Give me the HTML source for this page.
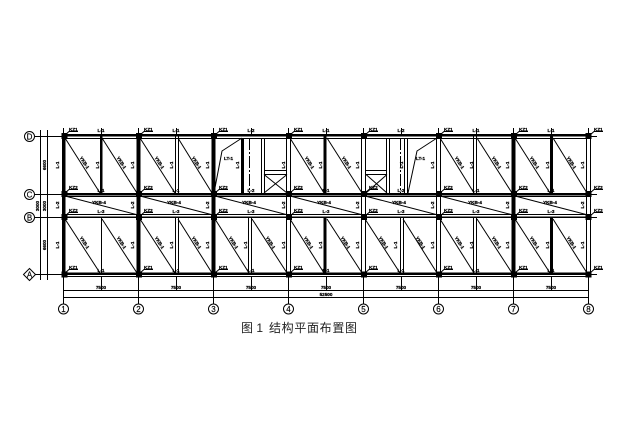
<!DOCTYPE html>
<html><head><meta charset="utf-8"><style>
html,body{margin:0;padding:0;background:#fff}
svg{display:block}
text{font-family:"Liberation Sans",sans-serif;font-size:4.600px;font-weight:bold;fill:#000;stroke:#000;stroke-width:.25}
.m{text-anchor:middle}
.b{font-size:8px;font-weight:normal;text-anchor:middle;stroke-width:.15}
.t{font-family:"Liberation Sans","Noto Sans CJK SC",sans-serif;font-size:12px;font-weight:normal;fill:#222;stroke:none}
</style></head><body>
<svg width="624" height="428" viewBox="0 0 624 428" xmlns="http://www.w3.org/2000/svg">
<rect width="624" height="428" fill="#fff"/>
<g fill="none" stroke="#000" stroke-width="1" shape-rendering="crispEdges">
<path d="M35 136.500H62M35 194.500H62M35 217.500H62M35 274.500H62M590 136.500H597M590 194.500H597M590 217.500H597M590 274.500H597"/>
<path d="M40.500 130V280M47.500 130V280"/>
<path d="M63.500 277V304M138.500 277V304M213.500 277V304M288.500 277V304M363.500 277V304M438.500 277V304M513.500 277V304M588.500 277V304"/>
<path d="M101.500 277V290M176.500 277V290M251.500 277V290M326.500 277V290M401.500 277V290M476.500 277V290M551.500 277V290"/>
<path d="M63 290.500H589M63 297.500H589"/>
<path d="M63.500 128V134M138.500 128V134M213.500 128V134M288.500 128V134M363.500 128V134M438.500 128V134M513.500 128V134M588.500 128V134"/>
<path d="M101.500 128V134M176.500 128V134M251.500 128V134M326.500 128V134M401.500 128V134M476.500 128V134M551.500 128V134"/>
<path d="M63 138.500H589M63 196.500H589M63 214.500H589M63 276.500H589"/>
<path d="M286.500 136V274M290.500 136V274M361.500 136V274M365.500 136V274M436.500 136V274M440.500 136V274M586.500 136V274M590.500 136V274"/>
<path d="M101.500 217V274M175.500 136V194M178.500 136V194M175.500 217V274M178.500 217V274M248.500 217V274M251.500 217V274M400.500 217V274M403.500 217V274M473.500 136V194M476.500 136V194M473.500 217V274M476.500 217V274"/>
<path d="M249.500 138V193" stroke-dasharray="12 2 2 2"/>
<path d="M400.500 138V193" stroke-dasharray="12 2 2 2"/>
<path d="M261.500 138V193M264.500 138V193M264 170.500H287M264 174.500H287"/>
<path d="M386.500 138V193M389.500 138V193M366 170.500H387M366 174.500H387"/>
<path d="M404.500 138V193M407.500 138V193"/>
</g>
<g fill="#000" shape-rendering="crispEdges">
<rect x="62" y="134" width="528" height="2.500"/>
<rect x="62" y="193" width="528" height="2.500"/>
<rect x="62" y="216.500" width="528" height="1.500"/>
<rect x="62" y="272.500" width="528" height="2.500"/>
<rect x="62" y="136" width="3.500" height="138"/>
<rect x="136.500" y="136" width="4" height="138"/>
<rect x="211.500" y="136" width="4" height="138"/>
<rect x="511.500" y="136" width="4" height="138"/>
<rect x="100" y="136" width="2.500" height="58"/>
<rect x="241" y="138" width="3" height="55"/>
<rect x="323.500" y="136" width="3" height="58"/>
<rect x="323.500" y="217" width="3" height="57"/>
<rect x="550" y="136" width="3" height="58"/>
<rect x="550" y="217" width="3" height="57"/>
<rect x="61.500" y="133" width="6" height="6"/><rect x="136" y="133" width="6" height="6"/><rect x="211" y="133" width="6" height="6"/><rect x="286" y="133" width="6" height="6"/><rect x="361" y="133" width="6" height="6"/><rect x="436" y="133" width="6" height="6"/><rect x="511" y="133" width="6" height="6"/><rect x="585.500" y="133" width="6" height="6"/>
<rect x="61.500" y="191" width="6" height="6"/><rect x="136" y="191" width="6" height="6"/><rect x="211" y="191" width="6" height="6"/><rect x="286" y="191" width="6" height="6"/><rect x="361" y="191" width="6" height="6"/><rect x="436" y="191" width="6" height="6"/><rect x="511" y="191" width="6" height="6"/><rect x="585.500" y="191" width="6" height="6"/>
<rect x="61.500" y="214" width="6" height="6"/><rect x="136" y="214" width="6" height="6"/><rect x="211" y="214" width="6" height="6"/><rect x="286" y="214" width="6" height="6"/><rect x="361" y="214" width="6" height="6"/><rect x="436" y="214" width="6" height="6"/><rect x="511" y="214" width="6" height="6"/><rect x="585.500" y="214" width="6" height="6"/>
<rect x="61.500" y="271.500" width="6" height="6"/><rect x="136" y="271.500" width="6" height="6"/><rect x="211" y="271.500" width="6" height="6"/><rect x="286" y="271.500" width="6" height="6"/><rect x="361" y="271.500" width="6" height="6"/><rect x="436" y="271.500" width="6" height="6"/><rect x="511" y="271.500" width="6" height="6"/><rect x="585.500" y="271.500" width="6" height="6"/>
</g>
<g fill="none" stroke="#000" stroke-width="1">
<path d="M65 138L100 193M102 138L137 193M140 138L175 193M178 138L212 193M290 138L324 193M327 138L362 193M440 138L474 193M477 138L512 193M515 138L550 193M553 138L587 193"/>
<path d="M65 219L100 273M102 219L137 273M140 219L175 273M178 219L212 273M215 219L249 273M252 219L287 273M290 219L324 273M327 219L362 273M365 219L400 273M403 219L437 273M440 219L474 273M477 219L512 273M515 219L550 273M553 219L587 273"/>
<path d="M65 196L138 215M140 196L213 215M215 196L288 215M290 196L363 215M365 196L438 215M440 196L513 215M515 196L588 215"/>
<path d="M214 193L222 151L242 138M408 193L417 151L437 138M264 174.500L287 193M287 174.500L264 193M366 174.500L387 193M387 174.500L366 193"/>
<path d="M65 135L69 131.500H78M140 135L144 131.500H153M215 135L219 131.500H228M290 135L294 131.500H303M365 135L369 131.500H378M440 135L444 131.500H453M515 135L519 131.500H528M590 135L594 131.500H603"/>
<path d="M65 193L69 189.500H78M140 193L144 189.500H153M215 193L219 189.500H228M290 193L294 189.500H303M365 193L369 189.500H378M440 193L444 189.500H453M515 193L519 189.500H528M590 193L594 189.500H603"/>
<path d="M65 216L69 212.500H78M140 216L144 212.500H153M215 216L219 212.500H228M290 216L294 212.500H303M365 216L369 212.500H378M440 216L444 212.500H453M515 216L519 212.500H528M590 216L594 212.500H603"/>
<path d="M65 273L69 269.500H78M140 273L144 269.500H153M215 273L219 269.500H228M290 273L294 269.500H303M365 273L369 269.500H378M440 273L444 269.500H453M515 273L519 269.500H528M590 273L594 269.500H603"/>
<circle cx="29.500" cy="136.500" r="5"/><circle cx="29.500" cy="194.500" r="5"/><circle cx="29.500" cy="217.500" r="5"/><path d="M29.500 268.500L35.500 274.500L29.500 280.500L23.500 274.500Z"/>
<circle cx="63.500" cy="309" r="5"/><circle cx="138.500" cy="309" r="5"/><circle cx="213.500" cy="309" r="5"/><circle cx="288.500" cy="309" r="5"/><circle cx="363.500" cy="309" r="5"/><circle cx="438.500" cy="309" r="5"/><circle cx="513.500" cy="309" r="5"/><circle cx="588.500" cy="309" r="5"/>
</g>
<g>
<text class="b" x="29.500" y="139.500">D</text><text class="b" x="29.500" y="197.500">C</text><text class="b" x="29.500" y="220.500">B</text><text class="b" x="29.500" y="277.500">A</text>
<text class="b" x="63.500" y="312">1</text><text class="b" x="138.500" y="312">2</text><text class="b" x="213.500" y="312">3</text><text class="b" x="288.500" y="312">4</text><text class="b" x="363.500" y="312">5</text><text class="b" x="438.500" y="312">6</text><text class="b" x="513.500" y="312">7</text><text class="b" x="588.500" y="312">8</text>
<text x="69" y="131">KZ1</text><text x="144" y="131">KZ1</text><text x="219" y="131">KZ1</text><text x="294" y="131">KZ1</text><text x="369" y="131">KZ1</text><text x="444" y="131">KZ1</text><text x="519" y="131">KZ1</text><text x="594" y="131">KZ1</text>
<text x="69" y="189">KZ2</text><text x="144" y="189">KZ2</text><text x="219" y="189">KZ2</text><text x="294" y="189">KZ2</text><text x="369" y="189">KZ2</text><text x="444" y="189">KZ2</text><text x="519" y="189">KZ2</text><text x="594" y="189">KZ2</text>
<text x="69" y="212">KZ2</text><text x="144" y="212">KZ2</text><text x="219" y="212">KZ2</text><text x="294" y="212">KZ2</text><text x="369" y="212">KZ2</text><text x="444" y="212">KZ2</text><text x="519" y="212">KZ2</text><text x="594" y="212">KZ2</text>
<text x="69" y="269">KZ1</text><text x="144" y="269">KZ1</text><text x="219" y="269">KZ1</text><text x="294" y="269">KZ1</text><text x="369" y="269">KZ1</text><text x="444" y="269">KZ1</text><text x="519" y="269">KZ1</text><text x="594" y="269">KZ1</text>
<text class="m" x="101" y="132">L-1</text><text class="m" x="176" y="132">L-1</text><text class="m" x="251" y="132">L-2</text><text class="m" x="326" y="132">L-1</text><text class="m" x="401" y="132">L-2</text><text class="m" x="476" y="132">L-1</text><text class="m" x="551" y="132">L-1</text>
<text class="m" x="101" y="192">L-1</text><text class="m" x="176" y="192">L-1</text><text class="m" x="251" y="192">L-2</text><text class="m" x="326" y="192">L-1</text><text class="m" x="401" y="192">L-2</text><text class="m" x="476" y="192">L-1</text><text class="m" x="551" y="192">L-1</text>
<text class="m" x="101" y="213">L-3</text><text class="m" x="176" y="213">L-3</text><text class="m" x="251" y="213">L-3</text><text class="m" x="326" y="213">L-3</text><text class="m" x="401" y="213">L-3</text><text class="m" x="476" y="213">L-3</text><text class="m" x="551" y="213">L-3</text>
<text class="m" x="101" y="272">L-1</text><text class="m" x="176" y="272">L-1</text><text class="m" x="251" y="272">L-1</text><text class="m" x="326" y="272">L-1</text><text class="m" x="401" y="272">L-1</text><text class="m" x="476" y="272">L-1</text><text class="m" x="551" y="272">L-1</text>
<text x="224" y="160">LT-1</text><text x="416" y="160">LT-1</text>
<text class="m" x="99" y="204">YKB-4</text><text class="m" x="174" y="204">YKB-4</text><text class="m" x="249" y="204">YKB-4</text><text class="m" x="324" y="204">YKB-4</text><text class="m" x="399" y="204">YKB-4</text><text class="m" x="475" y="204">YKB-4</text><text class="m" x="550" y="204">YKB-4</text>
<text class="m" transform="rotate(57 84 163)" x="84" y="164">YKB-1</text><text class="m" transform="rotate(57 121 163)" x="121" y="164">YKB-1</text><text class="m" transform="rotate(57 159 163)" x="159" y="164">YKB-1</text><text class="m" transform="rotate(57 196 163)" x="196" y="164">YKB-1</text><text class="m" transform="rotate(57 309 163)" x="309" y="164">YKB-1</text><text class="m" transform="rotate(57 346 163)" x="346" y="164">YKB-1</text><text class="m" transform="rotate(57 459 163)" x="459" y="164">YKB-1</text><text class="m" transform="rotate(57 496 163)" x="496" y="164">YKB-1</text><text class="m" transform="rotate(57 534 163)" x="534" y="164">YKB-1</text><text class="m" transform="rotate(57 571 163)" x="571" y="164">YKB-1</text>
<text class="m" transform="rotate(57 84 243)" x="84" y="244">YKB-1</text><text class="m" transform="rotate(57 121 243)" x="121" y="244">YKB-1</text><text class="m" transform="rotate(57 159 243)" x="159" y="244">YKB-1</text><text class="m" transform="rotate(57 196 243)" x="196" y="244">YKB-1</text><text class="m" transform="rotate(57 233 243)" x="233" y="244">YKB-1</text><text class="m" transform="rotate(57 270 243)" x="270" y="244">YKB-1</text><text class="m" transform="rotate(57 308 243)" x="308" y="244">YKB-1</text><text class="m" transform="rotate(57 345 243)" x="345" y="244">YKB-1</text><text class="m" transform="rotate(57 383 243)" x="383" y="244">YKB-1</text><text class="m" transform="rotate(57 420 243)" x="420" y="244">YKB-1</text><text class="m" transform="rotate(57 459 243)" x="459" y="244">YKB-1</text><text class="m" transform="rotate(57 496 243)" x="496" y="244">YKB-1</text><text class="m" transform="rotate(57 534 243)" x="534" y="244">YKB-1</text><text class="m" transform="rotate(57 571 243)" x="571" y="244">YKB-1</text>
<text class="m" transform="rotate(-90 59 165)" x="59" y="165">L-1</text><text class="m" transform="rotate(-90 99 165)" x="99" y="165">L-1</text><text class="m" transform="rotate(-90 134 165)" x="134" y="165">L-1</text><text class="m" transform="rotate(-90 173 165)" x="173" y="165">L-1</text><text class="m" transform="rotate(-90 209 165)" x="209" y="165">L-1</text><text class="m" transform="rotate(-90 239 165)" x="239" y="165">L-1</text><text class="m" transform="rotate(-90 285 165)" x="285" y="165">L-1</text><text class="m" transform="rotate(-90 322 165)" x="322" y="165">L-1</text><text class="m" transform="rotate(-90 359 165)" x="359" y="165">L-1</text><text class="m" transform="rotate(-90 403 165)" x="403" y="165">L-1</text><text class="m" transform="rotate(-90 434 165)" x="434" y="165">L-1</text><text class="m" transform="rotate(-90 473 165)" x="473" y="165">L-1</text><text class="m" transform="rotate(-90 509 165)" x="509" y="165">L-1</text><text class="m" transform="rotate(-90 549 165)" x="549" y="165">L-1</text><text class="m" transform="rotate(-90 584 165)" x="584" y="165">L-1</text>
<text class="m" transform="rotate(-90 59 205)" x="59" y="205">L-2</text><text class="m" transform="rotate(-90 134 205)" x="134" y="205">L-2</text><text class="m" transform="rotate(-90 209 205)" x="209" y="205">L-2</text><text class="m" transform="rotate(-90 285 205)" x="285" y="205">L-2</text><text class="m" transform="rotate(-90 359 205)" x="359" y="205">L-2</text><text class="m" transform="rotate(-90 434 205)" x="434" y="205">L-2</text><text class="m" transform="rotate(-90 509 205)" x="509" y="205">L-2</text><text class="m" transform="rotate(-90 584 205)" x="584" y="205">L-2</text>
<text class="m" transform="rotate(-90 59 245)" x="59" y="245">L-1</text><text class="m" transform="rotate(-90 134 245)" x="134" y="245">L-1</text><text class="m" transform="rotate(-90 173 245)" x="173" y="245">L-1</text><text class="m" transform="rotate(-90 209 245)" x="209" y="245">L-1</text><text class="m" transform="rotate(-90 247 245)" x="247" y="245">L-1</text><text class="m" transform="rotate(-90 285 245)" x="285" y="245">L-1</text><text class="m" transform="rotate(-90 322 245)" x="322" y="245">L-1</text><text class="m" transform="rotate(-90 359 245)" x="359" y="245">L-1</text><text class="m" transform="rotate(-90 397 245)" x="397" y="245">L-1</text><text class="m" transform="rotate(-90 434 245)" x="434" y="245">L-1</text><text class="m" transform="rotate(-90 473 245)" x="473" y="245">L-1</text><text class="m" transform="rotate(-90 509 245)" x="509" y="245">L-1</text><text class="m" transform="rotate(-90 549 245)" x="549" y="245">L-1</text><text class="m" transform="rotate(-90 584 245)" x="584" y="245">L-1</text>
<text class="m" transform="rotate(-90 46 165)" x="46" y="165">6600</text><text class="m" transform="rotate(-90 39 206)" x="39" y="206">3000</text><text class="m" transform="rotate(-90 46 206)" x="46" y="206">3000</text><text class="m" transform="rotate(-90 46 245)" x="46" y="245">6600</text>
<text class="m" x="101" y="289">7500</text><text class="m" x="176" y="289">7500</text><text class="m" x="251" y="289">7500</text><text class="m" x="326" y="289">7500</text><text class="m" x="401" y="289">7500</text><text class="m" x="476" y="289">7500</text><text class="m" x="551" y="289">7500</text>
<text class="m" x="326" y="296">52500</text>
<text class="t" x="241" y="332">图 1</text>
<text class="t" x="269" y="332" textLength="88">结构平面布置图</text>
</g>
</svg>
</body></html>
